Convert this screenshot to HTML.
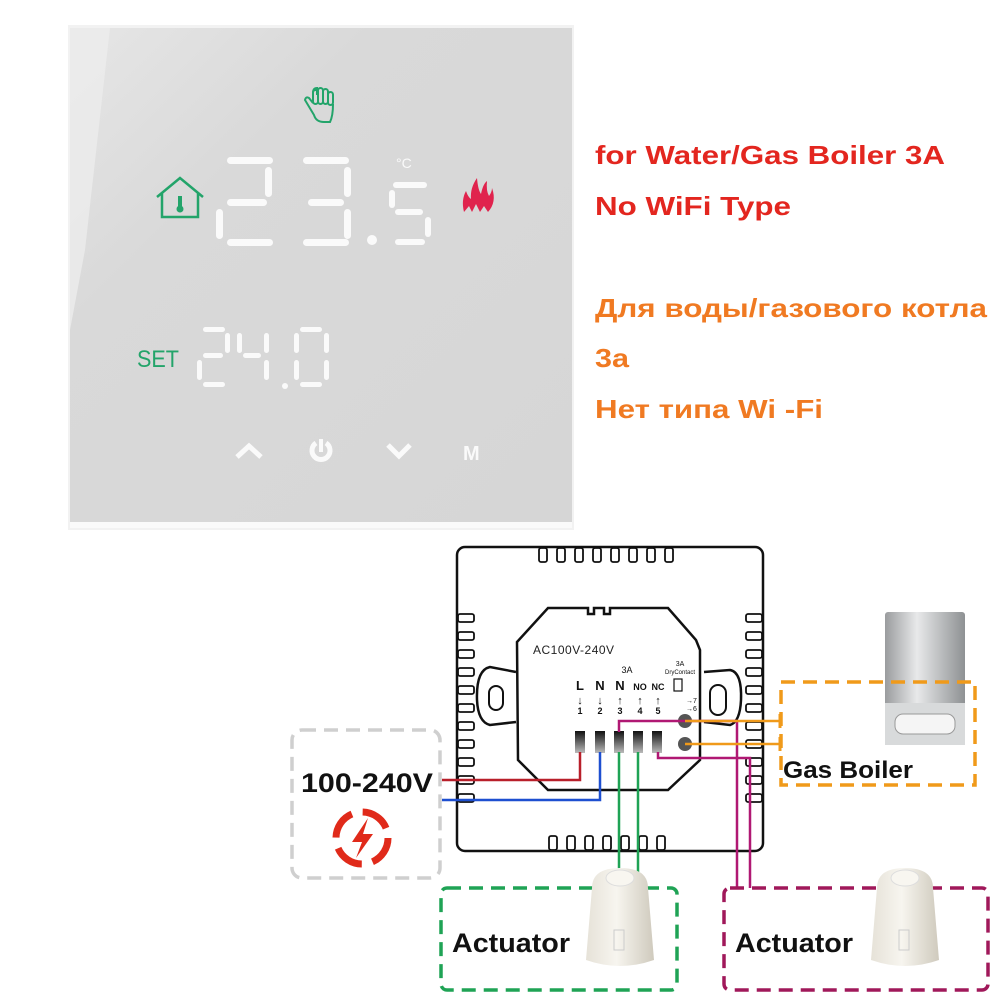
<!DOCTYPE html>
<html><head><meta charset="utf-8"><style>
html,body{margin:0;padding:0;background:#fff;}
svg{display:block;}
</style></head><body>
<svg width="1000" height="1000" viewBox="0 0 1000 1000" xmlns="http://www.w3.org/2000/svg" font-family="Liberation Sans, DejaVu Sans, sans-serif">
<defs>
<linearGradient id="pg" x1="0" y1="0" x2="1" y2="1"><stop offset="0" stop-color="#e6e6e6"/><stop offset="0.3" stop-color="#d9d9d9"/><stop offset="1" stop-color="#d6d6d6"/></linearGradient>
<linearGradient id="bg" x1="0" y1="0" x2="1" y2="0"><stop offset="0" stop-color="#9a9c9e"/><stop offset="0.4" stop-color="#e8e9ea"/><stop offset="1" stop-color="#8e9193"/></linearGradient>
<linearGradient id="tg" x1="0" y1="0" x2="0" y2="1"><stop offset="0" stop-color="#111"/><stop offset="1" stop-color="#bbb"/></linearGradient>
<linearGradient id="ag" x1="0" y1="0" x2="1" y2="0"><stop offset="0" stop-color="#e6e2d8"/><stop offset="0.45" stop-color="#f7f5ef"/><stop offset="1" stop-color="#cfcabd"/></linearGradient>
</defs>
<!-- thermostat panel -->
<rect x="68" y="25" width="506" height="505" fill="#f2f2f2"/>
<rect x="70" y="28" width="502" height="494" fill="url(#pg)"/>
<path d="M70 28 L110 28 L85 250 L70 330 Z" fill="#ececec" opacity="0.8"/>
<rect x="70" y="522" width="502" height="6" fill="#fafafa"/>
<g fill="#fafafa">
<rect x="227" y="157" width="46" height="7" rx="3.5"/><rect x="265" y="167" width="7" height="30" rx="3.5"/>
<rect x="227" y="199" width="40" height="7" rx="3.5"/><rect x="216" y="209" width="7" height="30" rx="3.5"/>
<rect x="227" y="239" width="46" height="7" rx="3.5"/>
<rect x="303" y="157" width="46" height="7" rx="3.5"/><rect x="344" y="167" width="7" height="30" rx="3.5"/>
<rect x="308" y="199" width="36" height="7" rx="3.5"/><rect x="344" y="209" width="7" height="30" rx="3.5"/>
<rect x="303" y="239" width="46" height="7" rx="3.5"/>
<circle cx="372" cy="240" r="5"/>
<rect x="393" y="182" width="34" height="6" rx="3"/><rect x="389" y="190" width="6" height="18" rx="3"/>
<rect x="395" y="209" width="28" height="6" rx="3"/><rect x="425" y="217" width="6" height="20" rx="3"/>
<rect x="395" y="239" width="30" height="6" rx="3"/>
<rect x="203" y="327" width="22" height="5" rx="2.5"/><rect x="225" y="333" width="5" height="20" rx="2.5"/>
<rect x="203" y="353" width="20" height="5" rx="2.5"/><rect x="197" y="360" width="5" height="20" rx="2.5"/>
<rect x="203" y="382" width="22" height="5" rx="2.5"/>
<rect x="237" y="333" width="5" height="20" rx="2.5"/><rect x="243" y="353" width="18" height="5" rx="2.5"/>
<rect x="264" y="333" width="5" height="20" rx="2.5"/><rect x="264" y="360" width="5" height="20" rx="2.5"/>
<circle cx="285" cy="386" r="3"/>
<rect x="300" y="327" width="22" height="5" rx="2.5"/><rect x="294" y="333" width="5" height="20" rx="2.5"/>
<rect x="324" y="333" width="5" height="20" rx="2.5"/><rect x="294" y="360" width="5" height="20" rx="2.5"/>
<rect x="324" y="360" width="5" height="20" rx="2.5"/><rect x="300" y="382" width="22" height="5" rx="2.5"/>
</g>
<text x="396" y="168" font-size="14" fill="#fafafa">°C</text>
<path d="M237 457 L249 446 L261 457" fill="none" stroke="#fafafa" stroke-width="5"/>
<path d="M388 445 L399 456 L410 445" fill="none" stroke="#fafafa" stroke-width="5"/>
<path d="M316 443 A9 9 0 1 0 326 443" fill="none" stroke="#fafafa" stroke-width="5"/>
<line x1="321" y1="439" x2="321" y2="452" stroke="#fafafa" stroke-width="4"/>
<text x="463" y="460" font-size="20" font-weight="bold" fill="#fafafa">M</text>
<!-- icons -->
<text x="137" y="367" font-size="24" fill="#23a46a" textLength="42" lengthAdjust="spacingAndGlyphs">SET</text>
<path d="M157 197 L180 178 L203 197 M162 193 L162 217 L198 217 L198 193" fill="none" stroke="#23a46a" stroke-width="2.5"/>
<rect x="178" y="196" width="4" height="12" fill="#23a46a"/><circle cx="180" cy="209" r="3.5" fill="#23a46a"/>
<g fill="none" stroke="#23a46a" stroke-width="2">
<path d="M313 102 L313 93 Q313 88 317 88 L317 95 M317 95 L317 91 M317 93 L317 92"/>
<rect x="313" y="90" width="5" height="14" rx="2.5"/>
<rect x="318" y="88" width="5" height="16" rx="2.5"/>
<rect x="323" y="89" width="5" height="15" rx="2.5"/>
<rect x="328" y="92" width="5" height="13" rx="2.5"/>
<path d="M313 103 L309 98 Q306 96 305 100 L314 115 Q316 122 324 122 L330 122 Q333 116 333 104"/>
</g>
<path d="M464 212 Q461 200 466 191 Q468 197 471 199 Q470 188 477 178 Q478 190 481 194 Q483 184 487 181 Q486 191 489 196 Q492 192 492 188 Q497 202 488 212 L484 206 L480 212 L476 204 L472 212 L469 206 Z" fill="#e0234d"/>
<!-- right text -->
<g font-weight="bold" font-size="26">
<text x="595" y="164" fill="#e3261f" textLength="350" lengthAdjust="spacingAndGlyphs">for Water/Gas Boiler 3A</text>
<text x="595" y="215" fill="#e3261f" textLength="196" lengthAdjust="spacingAndGlyphs">No WiFi Type</text>
<text x="595" y="317" fill="#f07a22" textLength="392" lengthAdjust="spacingAndGlyphs">Для воды/газового котла</text>
<text x="595" y="367" fill="#f07a22" textLength="34" lengthAdjust="spacingAndGlyphs">3а</text>
<text x="595" y="418" fill="#f07a22" textLength="228" lengthAdjust="spacingAndGlyphs">Нет типа Wi -Fi</text>
</g>
<!-- base plate -->
<rect x="457" y="547" width="306" height="304" rx="8" fill="#fff" stroke="#111" stroke-width="2.5"/>
<g fill="#fff" stroke="#111" stroke-width="1.8">
<rect x="539" y="548" width="8" height="14" rx="2"/><rect x="557" y="548" width="8" height="14" rx="2"/><rect x="575" y="548" width="8" height="14" rx="2"/><rect x="593" y="548" width="8" height="14" rx="2"/><rect x="611" y="548" width="8" height="14" rx="2"/><rect x="629" y="548" width="8" height="14" rx="2"/><rect x="647" y="548" width="8" height="14" rx="2"/><rect x="665" y="548" width="8" height="14" rx="2"/>
<rect x="549" y="836" width="8" height="14" rx="2"/><rect x="567" y="836" width="8" height="14" rx="2"/><rect x="585" y="836" width="8" height="14" rx="2"/><rect x="603" y="836" width="8" height="14" rx="2"/><rect x="621" y="836" width="8" height="14" rx="2"/><rect x="639" y="836" width="8" height="14" rx="2"/><rect x="657" y="836" width="8" height="14" rx="2"/>
</g>
<g fill="#fff" stroke="#111" stroke-width="1.8">
<rect x="458" y="614" width="16" height="8" rx="2"/><rect x="458" y="632" width="16" height="8" rx="2"/><rect x="458" y="650" width="16" height="8" rx="2"/><rect x="458" y="668" width="16" height="8" rx="2"/><rect x="458" y="686" width="16" height="8" rx="2"/><rect x="458" y="704" width="16" height="8" rx="2"/><rect x="458" y="722" width="16" height="8" rx="2"/><rect x="458" y="740" width="16" height="8" rx="2"/><rect x="458" y="758" width="16" height="8" rx="2"/><rect x="458" y="776" width="16" height="8" rx="2"/><rect x="458" y="794" width="16" height="8" rx="2"/>
<rect x="746" y="614" width="16" height="8" rx="2"/><rect x="746" y="632" width="16" height="8" rx="2"/><rect x="746" y="650" width="16" height="8" rx="2"/><rect x="746" y="668" width="16" height="8" rx="2"/><rect x="746" y="686" width="16" height="8" rx="2"/><rect x="746" y="704" width="16" height="8" rx="2"/><rect x="746" y="722" width="16" height="8" rx="2"/><rect x="746" y="740" width="16" height="8" rx="2"/><rect x="746" y="758" width="16" height="8" rx="2"/><rect x="746" y="776" width="16" height="8" rx="2"/><rect x="746" y="794" width="16" height="8" rx="2"/>
</g>
<path d="M516 672 L490 667 Q476 670 477 700 Q478 722 490 725 L516 722" fill="#fff" stroke="#111" stroke-width="2.5"/>
<rect x="489" y="686" width="14" height="24" rx="7" fill="#fff" stroke="#111" stroke-width="2"/>
<path d="M704 672 L730 670 Q742 672 741 700 Q740 722 730 725 L704 722" fill="#fff" stroke="#111" stroke-width="2.5"/>
<rect x="710" y="685" width="16" height="30" rx="8" fill="#fff" stroke="#111" stroke-width="2"/>
<path d="M548 608 L588 608 L588 614 L594 614 L594 608 L604 608 L604 614 L610 614 L610 608 L636 608 L668 608 L696 640 L700 650 L700 760 L668 790 L548 790 L518 760 L517 642 Z" fill="#fff" stroke="#111" stroke-width="2.5"/>
<text x="533" y="654" font-size="12" fill="#222" letter-spacing="0.5">AC100V-240V</text>
<g font-size="11" font-weight="bold" fill="#111" text-anchor="middle">
<text x="580" y="690" font-size="13">L</text><text x="600" y="690" font-size="13">N</text><text x="620" y="690" font-size="13">N</text>
<text x="640" y="690" font-size="9">NO</text><text x="658" y="690" font-size="9">NC</text>
<text x="627" y="673" font-size="9" font-weight="normal">3A</text>
<text x="680" y="666" font-size="7" font-weight="normal">3A</text><text x="680" y="674" font-size="6" font-weight="normal">DryContact</text>
<text x="580" y="714" font-size="9">1</text><text x="600" y="714" font-size="9">2</text><text x="620" y="714" font-size="9">3</text><text x="640" y="714" font-size="9">4</text><text x="658" y="714" font-size="9">5</text>
<text x="580" y="704">↓</text><text x="600" y="704">↓</text><text x="620" y="704">↑</text><text x="640" y="704">↑</text><text x="658" y="704">↑</text>
</g>
<rect x="674" y="679" width="8" height="12" fill="none" stroke="#111" stroke-width="1.2"/>
<text x="686" y="703" font-size="7" fill="#111">→7</text><text x="686" y="711" font-size="7" fill="#111">→6</text>
<g fill="url(#tg)"><rect x="575" y="731" width="10" height="22"/><rect x="595" y="731" width="10" height="22"/><rect x="614" y="731" width="10" height="22"/><rect x="633" y="731" width="10" height="22"/><rect x="652" y="731" width="10" height="22"/></g>
<circle cx="685" cy="721" r="7" fill="#555"/><circle cx="685" cy="744" r="7" fill="#555"/>
<path d="M580 752 L580 780 L442 780" fill="none" stroke="#b81f2a" stroke-width="2.5"/>
<path d="M600 752 L600 800 L442 800" fill="none" stroke="#1d4fd0" stroke-width="2.5"/>
<path d="M619 752 L619 880 M638 752 L638 880" fill="none" stroke="#1fa355" stroke-width="2.5"/>
<path d="M619 732 L619 721 L737 721 L737 888" fill="none" stroke="#b01873" stroke-width="2.5"/>
<path d="M658 752 L658 758 L750 758 L750 888" fill="none" stroke="#b01873" stroke-width="2.5"/>
<path d="M685 721 L780 721 M685 744 L780 744" stroke="#f09a1a" stroke-width="2.5"/>
<path d="M780 714 L780 728 M780 737 L780 751" stroke="#f09a1a" stroke-width="3"/>
<rect x="292" y="730" width="148" height="148" rx="10" fill="none" stroke="#cfcfcf" stroke-width="3.5" stroke-dasharray="14 8"/>
<text x="301" y="792" font-size="27" font-weight="bold" fill="#111" textLength="132" lengthAdjust="spacingAndGlyphs">100-240V</text>
<circle cx="362" cy="838" r="26" fill="none" stroke="#e02a1a" stroke-width="7" stroke-dasharray="30 11"/>
<path d="M368 818 L352 842 L362 842 L356 858 L373 834 L363 834 Z" fill="#e02a1a"/>
<rect x="885" y="612" width="80" height="132" rx="3" fill="url(#bg)"/>
<rect x="885" y="703" width="80" height="42" fill="#d8dadb"/>
<rect x="895" y="714" width="60" height="20" rx="8" fill="#f5f5f5" stroke="#999"/>
<rect x="781" y="682" width="194" height="103" fill="none" stroke="#f09a1a" stroke-width="3.5" stroke-dasharray="14 8"/>
<text x="783" y="778" font-size="24" font-weight="bold" fill="#111" textLength="130" lengthAdjust="spacingAndGlyphs">Gas Boiler</text>
<rect x="441" y="888" width="236" height="102" rx="6" fill="none" stroke="#1fa355" stroke-width="3.5" stroke-dasharray="14 8"/>
<rect x="724" y="888" width="264" height="102" rx="6" fill="none" stroke="#a0185a" stroke-width="3.5" stroke-dasharray="14 8"/>
<text x="452" y="952" font-size="27" font-weight="bold" fill="#111" textLength="118" lengthAdjust="spacingAndGlyphs">Actuator</text>
<text x="735" y="952" font-size="27" font-weight="bold" fill="#111" textLength="118" lengthAdjust="spacingAndGlyphs">Actuator</text>
<g>
<path d="M592 888 Q592 868 620 868 Q648 868 648 888 L654 960 Q620 972 586 960 Z" fill="url(#ag)"/>
<ellipse cx="620" cy="878" rx="14" ry="8" fill="#f8f6f0" stroke="#ddd"/>
<rect x="614" y="930" width="10" height="20" fill="none" stroke="#ccc"/>
</g>
<g>
<path d="M877 888 Q877 868 905 868 Q933 868 933 888 L939 960 Q905 972 871 960 Z" fill="url(#ag)"/>
<ellipse cx="905" cy="878" rx="14" ry="8" fill="#f8f6f0" stroke="#ddd"/>
<rect x="899" y="930" width="10" height="20" fill="none" stroke="#ccc"/>
</g>
</svg>
</body></html>
